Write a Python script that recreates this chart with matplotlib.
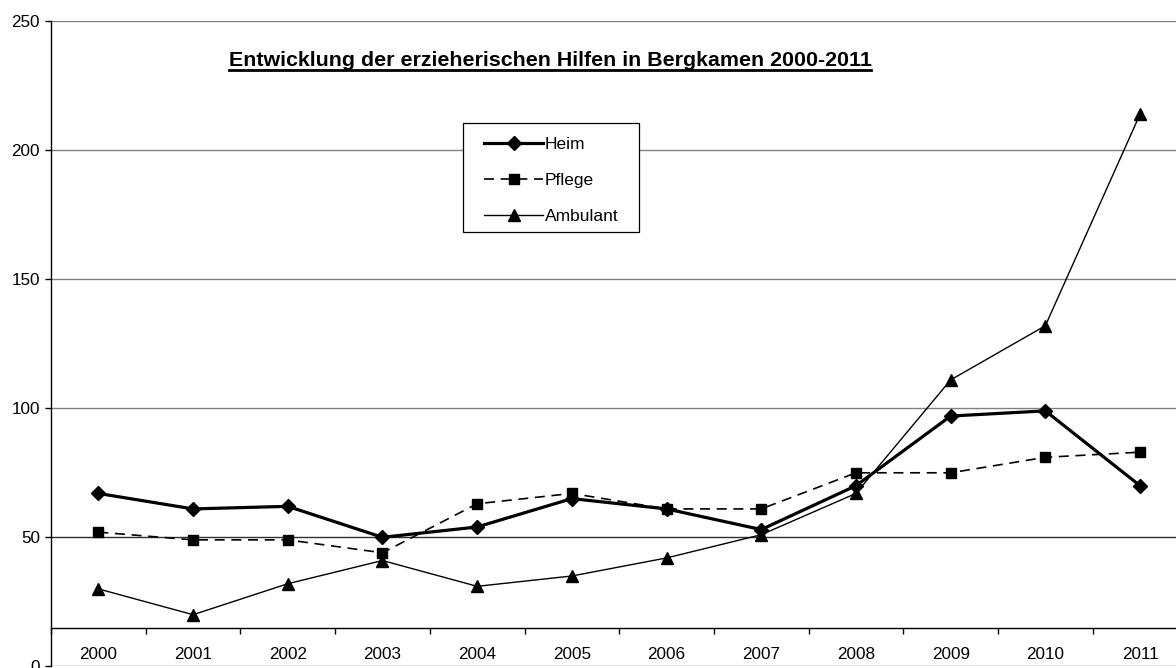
import matplotlib.pyplot as plt
from matplotlib.lines import Line2D
from matplotlib.patches import Rectangle

years = ['2000', '2001', '2002', '2003', '2004', '2005',
         '2006', '2007', '2008', '2009', '2010', '2011']
heim = [67, 61, 62, 50, 54, 65, 61, 53, 70, 97, 99, 70]
pflege = [52, 49, 49, 44, 63, 67, 61, 61, 75, 75, 81, 83]
ambulant = [30, 20, 32, 41, 31, 35, 42, 51, 67, 111, 132, 214]

plt.rcParams['font.family'] = ['Liberation Sans', 'DejaVu Sans']

W, H = 1176, 668
fig = plt.figure(figsize=(W / 100, H / 100), dpi=100)
# plot area runs past the right edge of the image, like the original
ax = fig.add_axes([51 / W, 1.7 / H, 1136.4 / W, 645 / H])

x = list(range(len(years)))
ax.plot(x, heim, color='black', lw=2.3, marker='D', ms=7.5, label='Heim', zorder=4)
ax.plot(x, pflege, color='black', lw=1.2, ls=(0, (6, 4)), marker='s', ms=7,
        label='Pflege', zorder=3)
ax.plot(x, ambulant, color='black', lw=1.0, marker='^', ms=8, label='Ambulant', zorder=3)

ax.set_xlim(-0.5, 11.5)
ax.set_ylim(0, 250)
ax.set_yticks([0, 50, 100, 150, 200, 250])
ax.grid(axis='y', color='#808080', lw=1.0)
ax.set_axisbelow(True)
ax.get_ygridlines()[1].set_color('#303030')

for s in ['top', 'right']:
    ax.spines[s].set_visible(False)
ax.spines['left'].set_linewidth(1.0)
# category axis crosses the value axis at 15
ax.spines['bottom'].set_position(('data', 15))
ax.spines['bottom'].set_linewidth(1.0)

ax.set_xticks(x)
ax.set_xticklabels(years)
ax.set_xticks([i - 0.5 for i in range(len(years) + 1)], minor=True)
ax.tick_params(axis='x', which='major', length=0, pad=14, labelsize=12.3)
ax.tick_params(axis='x', which='minor', length=4.5, width=1.0, direction='out')
ax.tick_params(axis='y', length=4, width=1.0, pad=4, labelsize=12.3)

# legend box (wide, Excel style) drawn separately
box = Rectangle((463.3 / W, 1 - 231.7 / H), 175.7 / W, 108.4 / H,
                transform=fig.transFigure, facecolor='white', edgecolor='black',
                lw=0.9, zorder=4.5)
ax.add_patch(box)
box.set_clip_on(False)
leg = ax.legend(loc='upper left', bbox_to_anchor=(484 / W, 1 - 137 / H),
                bbox_transform=fig.transFigure, fontsize=12.5, frameon=False,
                handlelength=3.4, handletextpad=0.1, labelspacing=1.2,
                borderpad=0, borderaxespad=0)

title = fig.text(550 / W, 1 - 60 / H,
                 'Entwicklung der erzieherischen Hilfen in Bergkamen 2000-2011',
                 ha='center', va='center', fontsize=15.4, fontweight='bold')
fig.canvas.draw()
bb = title.get_window_extent().transformed(fig.transFigure.inverted())
fig.add_artist(Line2D([bb.x0, bb.x1], [bb.y0 - 1.0 / H, bb.y0 - 1.0 / H],
                      transform=fig.transFigure, color='black', lw=2.0))

fig.savefig('out.png', dpi=100)
